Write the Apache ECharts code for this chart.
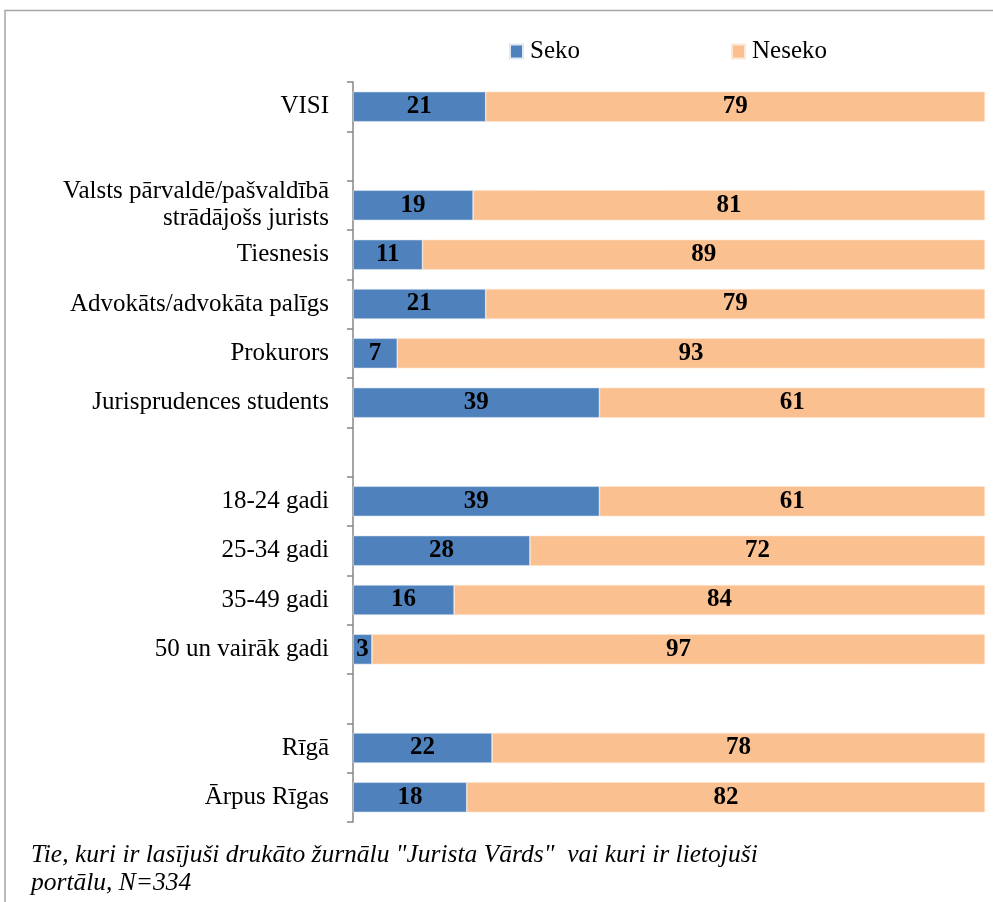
<!DOCTYPE html>
<html>
<head>
<meta charset="utf-8">
<script src="https://cdn.jsdelivr.net/npm/echarts@6/dist/echarts.min.js"></script>
<style>
  html, body { margin: 0; padding: 0; background: #ffffff; }
  #chart { width: 993px; height: 902px; }
</style>
</head>
<body>
<div id="chart"></div>
<script>
// Row labels, top to bottom; blank entries are spacer rows between groups
const categories = [
  'VISI',
  '',
  'Valsts pārvaldē/pašvaldībā\nstrādājošs jurists',
  'Tiesnesis',
  'Advokāts/advokāta palīgs',
  'Prokurors',
  'Jurisprudences students',
  ' ',
  '18-24 gadi',
  '25-34 gadi',
  '35-49 gadi',
  '50 un vairāk gadi',
  '  ',
  'Rīgā',
  'Ārpus Rīgas'
];

// Shares in percent (null for spacer rows)
const seko   = [21, null, 19, 11, 21, 7, 39, null, 39, 28, 16, 3, null, 22, 18];
const neseko = [79, null, 81, 89, 79, 93, 61, null, 61, 72, 84, 97, null, 78, 82];

const seriesNames = ['Seko', 'Neseko'];
const footnote = 'Tie, kuri ir lasījuši drukāto žurnālu "Jurista Vārds"  vai kuri ir lietojuši\nportālu, N=334';

const serif = '"Liberation Serif", "Times New Roman", serif';

const valueLabel = {
  show: true,
  position: 'inside',
  color: '#000000',
  fontFamily: serif,
  fontWeight: 'bold',
  fontSize: 25,
  formatter: p => (p.value == null ? '' : String(p.value))
};

const chart = echarts.init(document.getElementById('chart'), null, { renderer: 'canvas' });

chart.setOption({
  animation: false,
  backgroundColor: '#ffffff',
  legend: {
    data: seriesNames,
    left: 509,
    top: 39,
    padding: 0,
    itemWidth: 13,
    itemHeight: 14,
    itemGap: 151,
    icon: 'rect',
    textStyle: { fontFamily: serif, fontSize: 25, color: '#000000', padding: [0, 0, 0, 2] }
  },
  grid: { left: 353, right: 8, top: 82, bottom: 80, containLabel: false },
  xAxis: {
    type: 'value',
    min: 0,
    max: 100,
    show: false
  },
  yAxis: {
    type: 'category',
    data: categories,
    inverse: true,
    axisLine: { show: true, lineStyle: { color: '#868686', width: 1.5 } },
    axisTick: { show: true, length: 6, lineStyle: { color: '#868686', width: 1.5 } },
    axisLabel: {
      margin: 24,
      color: '#000000',
      fontFamily: serif,
      fontSize: 25,
      lineHeight: 27,
      align: 'right'
    },
    splitLine: { show: false }
  },
  series: [
    {
      name: seriesNames[0],
      type: 'bar',
      stack: 'total',
      data: seko,
      barWidth: '61%',
      itemStyle: { color: '#4F81BD', borderColor: '#dfe8f3', borderWidth: 0.6 },
      label: valueLabel
    },
    {
      name: seriesNames[1],
      type: 'bar',
      stack: 'total',
      data: neseko,
      barWidth: '61%',
      itemStyle: { color: '#FAC090', borderColor: '#fde7d4', borderWidth: 0.6 },
      label: valueLabel
    }
  ],
  graphic: [
    {
      type: 'rect',
      silent: true,
      z: -1,
      shape: { x: 5, y: 10.5, width: 1100, height: 1000 },
      style: { fill: 'none', stroke: '#a6a6a6', lineWidth: 1.5 }
    },
    {
      type: 'text',
      left: 31,
      top: 841,
      style: {
        text: footnote,
        fontFamily: serif,
        fontStyle: 'italic',
        fontSize: 25.5,
        lineHeight: 28,
        fill: '#000000'
      }
    }
  ]
});
</script>
</body>
</html>
